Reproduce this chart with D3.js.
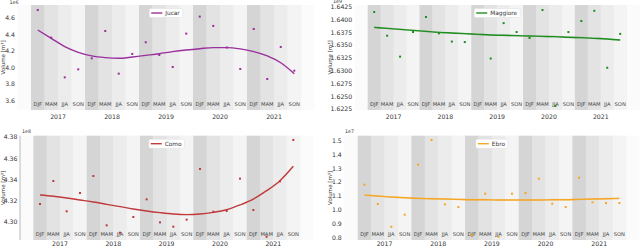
<!DOCTYPE html>
<html>
<head>
<meta charset="utf-8">
<script src="https://cdn.jsdelivr.net/npm/d3@7"></script>
<style>
  html, body { margin: 0; padding: 0; background: #fff; }
  svg { display: block; font-family: "DejaVu Sans", sans-serif; }
</style>
</head>
<body>
<svg id="chart" width="640" height="248"></svg>
<script>
// seasons / years on the x axis
const seasons = ['DJF', 'MAM', 'JJA', 'SON'];
const years = ['2017', '2018', '2019', '2020', '2021'];

// Jucar, volume [m3] x 1e6
const jucarValues = [4.70, 4.365, 3.883, 3.98, 4.114, 4.446, 3.928, 4.167, 4.309, 4.155,
  4.009, 4.414, 4.62, 4.507, 4.245, 3.985, 4.47, 3.863, 4.252, 3.964];
const jucarTrend = [4.458, 4.357, 4.256, 4.187, 4.143, 4.122, 4.114, 4.13, 4.15, 4.17,
  4.195, 4.215, 4.231, 4.244, 4.244, 4.228, 4.195, 4.143, 4.06, 3.928];
const jucarTicks = [3.6, 3.8, 4.0, 4.2, 4.4, 4.6];

// Maggiore, x 1e9
const maggioreValues = [1.64146, 1.63685, 1.63276, 1.63756, 1.64049, 1.6373, 1.6357, 1.6356, 1.641, 1.6324,
  1.6393, 1.63756, 1.6364, 1.64185, 1.62315, 1.63756, 1.6397, 1.6417, 1.6306, 1.6372];
const maggioreTrend = [1.63847, 1.63828, 1.63808, 1.63789, 1.63769, 1.6375, 1.63737, 1.63724, 1.63711, 1.63698,
  1.63692, 1.63685, 1.63679, 1.63672, 1.63666, 1.63653, 1.63646, 1.63633, 1.6362, 1.63601];
const maggioreTicks = [1.6225, 1.625, 1.6275, 1.63, 1.6325, 1.635, 1.6375, 1.64, 1.6425];

// Como, x 1e8
const comoValues = [4.3168, 4.3386, 4.3099, 4.3272, 4.3433, 4.2966, 4.2896, 4.3045, 4.3212, 4.2994,
  4.2953, 4.302, 4.35, 4.3095, 4.3102, 4.3408, 4.3111, 4.2858, 4.3383, 4.3775];
const comoTrend = [4.3253, 4.3241, 4.3225, 4.3206, 4.3187, 4.3165, 4.3143, 4.3121, 4.3102, 4.3086,
  4.3073, 4.3067, 4.3073, 4.3089, 4.3114, 4.3159, 4.3215, 4.3294, 4.3389, 4.3525];
const comoTicks = [4.30, 4.32, 4.34, 4.36, 4.38];

// Ebro, x 1e7
const ebroValues = [1.1825, 1.043, 0.879, 0.966, 1.327, 1.505, 1.041, 1.021, 0.82, 1.1175,
  0.807, 1.1175, 1.122, 1.226, 1.045, 1.021, 1.233, 1.055, 1.05, 1.05];
const ebroTrend = [1.1079, 1.1007, 1.0935, 1.0887, 1.0838, 1.0814, 1.079, 1.0766, 1.0742, 1.0742,
  1.0718, 1.0718, 1.0718, 1.0718, 1.0742, 1.0742, 1.0766, 1.079, 1.0814, 1.0838];
const ebroTicks = [0.8, 0.9, 1.0, 1.1, 1.2, 1.3, 1.4, 1.5];

const seasonFill = { DJF: '#d5d5d5', MAM: '#e3e3e3', JJA: '#ececec', SON: '#f4f4f4' };

const panels = [
  { name: 'Jucar', values: jucarValues, trend: jucarTrend, ticks: jucarTicks, fmt: '.1f', exp: '1e6',
    color: '#9a2f9e', yDomain: [3.487, 4.761], box: [17.5, 314.5, 5, 110], band: 0, spine: false,
    expPos: [9.5, 4.2], labelX: 3.5 },
  { name: 'Maggiore', values: maggioreValues, trend: maggioreTrend, ticks: maggioreTicks, fmt: '.4f', exp: '1e9',
    color: '#1f8c1f', yDomain: [1.62236, 1.64283], box: [354.75, 639.6, 5, 110], band: 0.00016, spine: false,
    expPos: [333, 2.6], labelX: 330 },
  { name: 'Como', values: comoValues, trend: comoTrend, ticks: comoTicks, fmt: '.2f', exp: '1e8',
    color: '#c0393b', yDomain: [4.2827, 4.3815], box: [20, 313.3, 135.7, 240], band: 0, spine: true,
    expPos: [22, 133.2], labelX: 3.5 },
  { name: 'Ebro', values: ebroValues, trend: ebroTrend, ticks: ebroTicks, fmt: '.1f', exp: '1e7',
    color: '#f5a623', yDomain: [0.7834, 1.536], box: [344.3, 639.5, 135.7, 240], band: 0.006, spine: false,
    expPos: [345, 133.2], labelX: 330 },
];

const svg = d3.select('#chart');

const slots = [];
years.forEach(yr => seasons.forEach(s => slots.push({ year: yr, season: s })));

panels.forEach(p => {
  const [x0, x1, y0, y1] = p.box;
  const g = svg.append('g');

  // band units: slot i spans [i, i+1]
  const x = d3.scaleLinear().domain([-1, slots.length + 1]).range([x0, x1]);
  const y = d3.scaleLinear().domain(p.yDomain).range([y1, y0]);

  g.append('rect')
    .attr('x', x0).attr('y', y0)
    .attr('width', x1 - x0).attr('height', y1 - y0)
    .attr('fill', '#fbfbfb');

  // season bands
  g.selectAll('rect.band')
    .data(slots)
    .join('rect')
    .attr('class', 'band')
    .attr('x', (d, i) => x(i))
    .attr('y', y0)
    .attr('width', x(1) - x(0) + 0.3)
    .attr('height', y1 - y0)
    .attr('fill', d => seasonFill[d.season]);

  // season labels inside the plot
  g.selectAll('text.season')
    .data(slots)
    .join('text')
    .attr('class', 'season')
    .attr('x', (d, i) => x(i + 0.5))
    .attr('y', y1 - 4)
    .attr('text-anchor', 'middle')
    .attr('font-size', 5.2)
    .attr('fill', '#444')
    .text(d => d.season);

  if (p.spine) {
    g.append('line')
      .attr('x1', x0).attr('x2', x0).attr('y1', y0).attr('y2', y1)
      .attr('stroke', '#aaa').attr('stroke-width', 0.8);
  }

  // year labels
  g.selectAll('text.year')
    .data(years)
    .join('text')
    .attr('class', 'year')
    .attr('x', (d, i) => x(i * 4 + 2))
    .attr('y', Math.min(y1 + 8.5, 246.3))
    .attr('text-anchor', 'middle')
    .attr('font-size', 6.2)
    .attr('fill', '#333')
    .text(d => d);

  // y ticks
  const fmt = d3.format(p.fmt);
  g.selectAll('text.ytick')
    .data(p.ticks)
    .join('text')
    .attr('class', 'ytick')
    .attr('x', x0 - 2.5)
    .attr('y', d => y(d))
    .attr('dy', '0.35em')
    .attr('text-anchor', 'end')
    .attr('font-size', 6.2)
    .attr('fill', '#333')
    .text(d => fmt(d));

  // offset text
  g.append('text')
    .attr('x', p.expPos[0])
    .attr('y', p.expPos[1])
    .attr('font-size', 4.8)
    .attr('fill', '#333')
    .text(p.exp);

  // y label
  g.append('text')
    .attr('transform', `translate(${p.labelX},${(y0 + y1) / 2}) rotate(-90)`)
    .attr('text-anchor', 'middle')
    .attr('dy', '0.35em')
    .attr('font-size', 5.5)
    .attr('fill', '#333')
    .text('Volume [m³]');

  // confidence band around trend
  if (p.band > 0) {
    g.append('path')
      .datum(p.trend)
      .attr('fill', p.color)
      .attr('opacity', 0.25)
      .attr('d', d3.area()
        .x((d, i) => x(i + 0.5))
        .y0(d => y(d - p.band))
        .y1(d => y(d + p.band))
        .curve(d3.curveMonotoneX));
  }

  // points
  g.selectAll('rect.pt')
    .data(p.values)
    .join('rect')
    .attr('class', 'pt')
    .attr('x', (d, i) => x(i + 0.5) - 1)
    .attr('y', d => y(d) - 1)
    .attr('width', 2)
    .attr('height', 2)
    .attr('fill', p.color);

  // trend line
  g.append('path')
    .datum(p.trend)
    .attr('fill', 'none')
    .attr('stroke', p.color)
    .attr('stroke-width', 1.4)
    .attr('d', d3.line()
      .x((d, i) => x(i + 0.5))
      .y(d => y(d))
      .curve(d3.curveMonotoneX));

  // legend, upper center
  const cx = (x0 + x1) / 2;
  const lg = g.append('g');
  const box = lg.append('rect')
    .attr('height', 9)
    .attr('rx', 1.5)
    .attr('fill', '#fff')
    .attr('stroke', '#ddd')
    .attr('stroke-width', 0.5);
  lg.append('line')
    .attr('x1', 2).attr('x2', 13)
    .attr('y1', 4.5).attr('y2', 4.5)
    .attr('stroke', p.color)
    .attr('stroke-width', 1.4);
  const label = lg.append('text')
    .attr('x', 16).attr('y', 4.5)
    .attr('dy', '0.35em')
    .attr('font-size', 5.8)
    .attr('fill', '#333')
    .text(p.name);
  const lw = 16 + label.node().getComputedTextLength() + 3;
  box.attr('width', lw);
  lg.attr('transform', `translate(${cx - lw / 2},${y0 + 3.5})`);
});
</script>
</body>
</html>
